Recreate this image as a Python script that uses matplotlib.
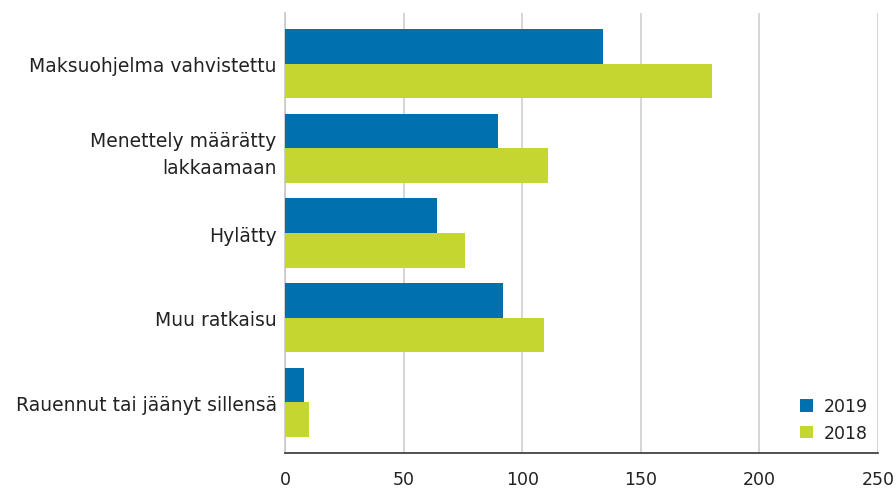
import matplotlib
matplotlib.use("Agg")
import matplotlib.pyplot as plt
import numpy as np

categories = ["Maksuohjelma vahvistettu", "Menettely määrätty\nlakkaamaan", "Hylätty",
              "Muu ratkaisu", "Rauennut tai jäänyt sillensä"]
series_names = ["2019", "2018"]
values_2019 = [134, 90, 64, 92, 8]
values_2018 = [180, 111, 76, 109, 10]
xticks = [0, 50, 100, 150, 200, 250]

colors = ["#0071AE", "#C3D730"]

plt.rcParams['font.family'] = ['DejaVu Sans']

fig = plt.figure(figsize=(8.96, 4.89), dpi=100)
ax = fig.add_axes([285/896, 1-454/489, (878-285)/896, (454-14)/489])

y = np.arange(len(categories))
h = 0.41
ax.barh(y - h/2, values_2019, height=h, color=colors[0], label=series_names[0], zorder=3)
ax.barh(y + h/2, values_2018, height=h, color=colors[1], label=series_names[1], zorder=3)

ax.set_xlim(0, 250)
ax.set_ylim(4.6, -0.6)
ax.set_xticks(xticks)
ax.set_xticklabels([str(t) for t in xticks], fontsize=12.5, color='#222222')
ax.set_yticks(y)
ax.set_yticklabels(categories, fontsize=13.5, linespacing=1.5, color='#222222')
ax.tick_params(axis='y', length=0, pad=6)
ax.tick_params(axis='x', length=0, pad=12.5)

ax.grid(axis='x', color='#cfcfcf', linewidth=1.2, zorder=0)
for s in ['top', 'right']:
    ax.spines[s].set_visible(False)
ax.spines['left'].set_color('#c8c8c8')
ax.spines['left'].set_linewidth(1.2)
ax.spines['bottom'].set_color('#333333')
ax.spines['bottom'].set_linewidth(1.2)

leg = ax.legend(loc='lower right', frameon=False, fontsize=12.5, handlelength=0.75,
                handleheight=0.75, handletextpad=0.6, labelspacing=0.5,
                bbox_to_anchor=(1.003, -0.003), borderaxespad=0.3)
for t in leg.get_texts():
    t.set_color('#222222')

fig.savefig("out.png", dpi=100)
